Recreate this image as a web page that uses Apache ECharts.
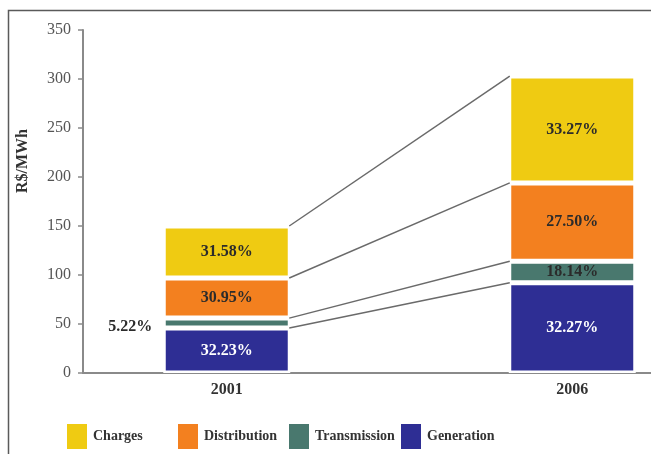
<!DOCTYPE html>
<html>
<head>
<meta charset="utf-8">
<script src="https://cdn.jsdelivr.net/npm/echarts@6/dist/echarts.min.js"></script>
<style>
  html, body { margin: 0; padding: 0; background: #fff; }
  #chart { width: 651px; height: 454px; }
</style>
</head>
<body>
<div id="chart"></div>
<script>
// ---- data ----
var years = ['2001', '2006'];
var seriesNames = ['Generation', 'Transmission', 'Distribution', 'Charges'];
var generation = [46, 92];
var transmission = [10, 22];
var distribution = [41, 80];
var charges = [53, 109];
var generationPct = ['32.23%', '32.27%'];
var transmissionPct = ['5.22%', '18.14%'];
var distributionPct = ['30.95%', '27.50%'];
var chargesPct = ['31.58%', '33.27%'];
var legendOrder = ['Charges', 'Distribution', 'Transmission', 'Generation'];
var yMin = 0, yMax = 350, yStep = 50;
var yAxisTitle = 'R$/MWh';

// ---- styles ----
var FONT = 'Liberation Serif';
var colors = {
  Generation: '#2E2E94',
  Transmission: '#49786E',
  Distribution: '#F3801F',
  Charges: '#EFCB12'
};
var BAR_W = 127;
var LEGEND_LEFTS = [65, 176, 287, 399];

var values = [generation, transmission, distribution, charges];
var pcts = [generationPct, transmissionPct, distributionPct, chargesPct];

// cumulative tops of each segment for each year (for connector lines)
var connectorData = [];
(function () {
  var c0 = 0, c1 = 0;
  for (var s = 0; s < values.length; s++) {
    c0 += values[s][0];
    c1 += values[s][1];
    connectorData.push([0, c0, c1]);
  }
})();

var barSeries = seriesNames.map(function (name, s) {
  return {
    name: name,
    type: 'bar',
    stack: 'total',
    xAxisIndex: 1,
    yAxisIndex: 1,
    barWidth: BAR_W,
    itemStyle: { color: colors[name], borderColor: '#fff', borderWidth: 2.5 },
    label: {
      show: true,
      position: 'inside',
      fontFamily: FONT,
      fontWeight: 'bold',
      fontSize: 16,
      color: name === 'Generation' ? '#fff' : '#2b2b2b',
      formatter: function (p) { return pcts[s][p.dataIndex]; }
    },
    data: values[s].map(function (v, i) {
      var item = { value: v };
      if (name === 'Transmission' && i === 0) {
        item.label = { position: 'left', distance: 11, offset: [0, 4] };
      }
      return item;
    }),
    emphasis: { disabled: true }
  };
});

var connectorSeries = {
  type: 'custom',
  xAxisIndex: 1,
  yAxisIndex: 1,
  silent: true,
  z: 3,
  encode: { x: 0, y: [1, 2] },
  data: connectorData,
  renderItem: function (params, api) {
    var p1 = api.coord([0, api.value(1)]);
    var p2 = api.coord([1, api.value(2)]);
    var half = BAR_W / 2 - 1;
    return {
      type: 'line',
      shape: { x1: p1[0] + half, y1: p1[1], x2: p2[0] - half, y2: p2[1] },
      style: { stroke: '#6a6a6a', lineWidth: 1.5 }
    };
  }
};

var legends = legendOrder.map(function (name, i) {
  return {
    data: [name],
    left: LEGEND_LEFTS[i],
    top: 422,
    padding: 0,
    icon: 'rect',
    itemWidth: 22,
    itemHeight: 27,
    itemTextGap: 7,
    selectedMode: false,
    textStyle: { fontFamily: FONT, fontWeight: 'bold', fontSize: 14, color: '#333' }
  };
});

var chart = echarts.init(document.getElementById('chart'), null, { renderer: 'canvas' });
chart.setOption({
  animation: false,
  backgroundColor: '#fff',
  textStyle: { fontFamily: FONT },
  grid: [
    { left: 83, right: 0, top: 30, bottom: 81, outerBoundsMode: 'none', containLabel: false },
    { left: 54, width: 691, top: 30, bottom: 81, outerBoundsMode: 'none', containLabel: false }
  ],
  xAxis: [
    {
      gridIndex: 0, type: 'value', min: 0, max: 1,
      axisLine: { show: true, lineStyle: { color: '#8a8a8a', width: 2 } },
      axisTick: { show: false }, axisLabel: { show: false }, splitLine: { show: false }
    },
    {
      gridIndex: 1, type: 'category', data: years,
      axisLine: { show: false }, axisTick: { show: false }, splitLine: { show: false },
      axisLabel: { fontFamily: FONT, fontWeight: 'bold', fontSize: 16, color: '#333', margin: 9 }
    }
  ],
  yAxis: [
    {
      gridIndex: 0, type: 'value', min: yMin, max: yMax, interval: yStep,
      axisLine: { show: true, lineStyle: { color: '#8a8a8a', width: 2 } },
      axisTick: { show: true, length: 5, lineStyle: { color: '#8a8a8a', width: 1.5 } },
      axisLabel: { fontFamily: FONT, fontSize: 16, color: '#555', margin: 12 },
      splitLine: { show: false }
    },
    {
      gridIndex: 1, type: 'value', min: yMin, max: yMax, interval: yStep, show: false
    }
  ],
  legend: legends,
  graphic: [
    {
      type: 'text',
      x: 23, y: 161,
      rotation: Math.PI / 2,
      style: {
        text: yAxisTitle,
        fontFamily: FONT, fontWeight: 'bold', fontSize: 16, fill: '#333',
        align: 'center', verticalAlign: 'middle'
      }
    },
    {
      type: 'polyline',
      shape: { points: [[8.5, 454], [8.5, 10.5], [651, 10.5]] },
      style: { stroke: '#5a5a5a', lineWidth: 1.5, fill: null }
    }
  ],
  series: barSeries.concat([connectorSeries])
});
</script>
</body>
</html>
